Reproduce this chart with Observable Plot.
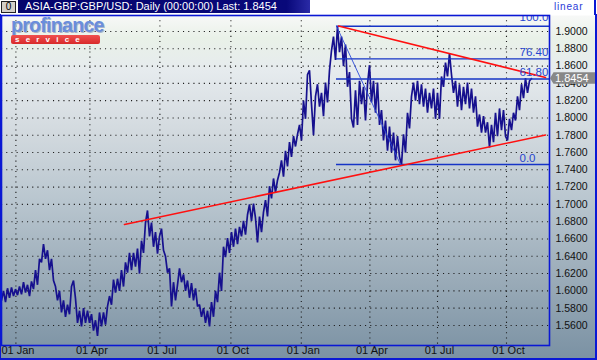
<!DOCTYPE html>
<html><head><meta charset="utf-8">
<script src="https://cdn.jsdelivr.net/npm/d3@7"></script>
<script src="https://cdn.jsdelivr.net/npm/@observablehq/plot@0.6"></script>
<style>
html,body{margin:0;padding:0;background:#fff;}
#wrap{position:relative;width:597px;height:360px;overflow:hidden;font-family:"Liberation Sans",Arial,sans-serif;
 background:linear-gradient(to bottom,#ffffff 0px,#ffffff 15px,#f7f8f7 16px,#e9f1e8 38px,#e6ebee 70px,#d3dadf 130px,#b9c6cf 200px,#9aabb8 280px,#7a91a3 360px);}
#wrap svg{position:absolute;left:0;top:0;}
.border{position:absolute;left:0;top:14px;height:344px;border-left:1px solid #0a18d4;border-right:2px solid #0a18d4;border-bottom:2px solid #0a18d4;width:594px;pointer-events:none;}
.rborder{position:absolute;left:594px;top:0;height:15px;border-left:2px solid #0a18d4;pointer-events:none;}
.btn{position:absolute;left:1px;top:1px;width:13px;height:10px;background:#d4d0c8;border:1px solid #222;font-size:10px;line-height:10px;text-align:center;color:#000;}
.bar{position:absolute;left:18px;top:0;width:292px;height:13px;background:linear-gradient(to right,#05056c 0%,#08087a 92%,#2a2aa6 100%);color:#fff;font-size:11px;line-height:13px;padding-left:7px;box-sizing:border-box;white-space:nowrap;}
.lin{position:absolute;left:554px;top:1px;font-size:10px;color:#2a3ad8;letter-spacing:0.8px;}
.logo{position:absolute;left:11px;top:15px;font-weight:bold;font-size:19.5px;line-height:20px;letter-spacing:-0.7px;color:#6a8ddc;text-shadow:1px 1px 0 #aab4c8;}
.svc{position:absolute;left:11px;top:35px;width:89px;height:9px;background:linear-gradient(to bottom,#f05050,#d82a2a);border-radius:2px;color:#fff;font-weight:bold;font-size:8px;line-height:9px;letter-spacing:6.2px;padding-left:4px;box-sizing:border-box;}
</style></head><body><div id="wrap"></div>
<script>
// Daily GBP/USD close, sampled (sample index i), Dec 2002 .. Nov 2004
const closes = [
1.589,1.600,1.587,1.603,1.592,1.604,1.594,1.602,1.595,1.605,1.596,1.610,1.598,1.607,1.594,1.611,1.602,1.624,1.607,1.637,
1.633,1.654,1.637,1.647,1.624,1.637,1.612,1.605,1.589,1.600,1.575,1.589,1.570,1.584,1.573,1.605,1.612,1.591,1.563,1.577,
1.559,1.580,1.563,1.577,1.563,1.573,1.554,1.566,1.548,1.575,1.559,1.575,1.561,1.582,1.594,1.584,1.613,1.598,
1.614,1.600,1.624,1.605,1.633,1.621,1.644,1.624,1.644,1.628,1.649,1.620,1.658,1.644,1.679,1.693,1.663,1.679,1.651,1.668,
1.643,1.663,1.672,1.647,1.640,1.621,1.626,1.582,1.610,1.589,1.607,1.626,1.610,1.619,1.600,1.612,1.592,1.609,1.589,1.603,
1.582,1.584,1.570,1.580,1.563,1.577,1.559,1.587,1.570,1.600,1.587,1.621,1.600,1.651,1.639,
1.661,1.644,1.668,1.651,1.672,1.654,1.674,1.663,1.681,1.665,1.688,1.700,1.681,1.701,1.684,1.656,1.686,1.668,1.691,1.705,
1.686,1.721,1.707,1.730,1.714,1.728,1.737,1.751,1.732,1.762,1.744,1.772,1.755,1.779,1.767,1.781,1.792,1.774,1.820,1.799,
1.850,1.855,1.816,1.780,1.825,1.839,1.813,1.829,1.802,1.841,1.818,1.855,1.878,1.894,1.867,1.906,
1.876,1.894,1.860,1.885,1.836,1.853,1.799,1.789,1.832,1.792,1.843,1.816,1.836,1.797,1.839,1.861,1.818,1.843,1.806,1.841,
1.792,1.809,1.774,1.797,1.762,1.790,1.760,1.783,1.751,1.779,1.755,1.746,1.781,1.760,1.806,1.788,1.825,1.841,1.820,1.843,
1.816,1.839,1.813,1.834,1.806,1.829,1.811,1.834,1.799,1.829,1.799,
1.848,1.836,1.864,1.848,1.875,1.850,1.829,1.843,1.813,1.839,1.809,1.836,1.816,1.841,1.811,1.834,1.806,1.825,1.790,1.804,
1.783,1.802,1.783,1.795,1.766,1.792,1.772,1.806,1.779,1.811,1.786,1.809,1.779,1.774,1.799,1.786,1.806,1.797,1.825,1.809,
1.839,1.823,1.846,1.829,1.843,1.8454
];
// quarter starts (sample index) and their labels
const tickIdx = [7.2, 44.2, 79.2, 114.7, 149.9, 184.2, 218.0, 252.5];
const tickLabels = ["01 Jan","01 Apr","01 Jul","01 Oct","01 Jan","01 Apr","01 Jul","01 Oct"];
const yTicks = [1.56,1.58,1.60,1.62,1.64,1.66,1.68,1.70,1.72,1.74,1.76,1.78,1.80,1.82,1.84,1.86,1.88,1.90];
const xDomain = [0, 274];
const yDomain = [1.5368, 1.9185];
// Fibonacci retracement (high -> low)
const fibHigh = 1.9061, fibLow = 1.7462;
const fibHighIdx = 167.5, fibLowIdx = 199.5;
const fibPcts = [100, 76.4, 61.8, 0];
const fibLabels = ["100.00", "76.40", "61.80", "0.0"];
// trend lines [index, price]
const upperTrend = [[168.5, 1.9064], [272, 1.8468]];
const lowerTrend = [[61.5, 1.6768], [272, 1.7803]];
const lastPrice = 1.8454;
const titleText = "ASIA-GBP:GBP/USD: Daily (00:00:00) Last: 1.8454";

const series = closes.map((v, i) => ({i, v}));
const fibs = fibPcts.map((p, k) => ({price: fibLow + (fibHigh - fibLow) * p / 100, label: fibLabels[k], top: p === 100}));
const xt = tickIdx.map((t, k) => ({t, label: tickLabels[k]}));
const blue = "#1634c6";

const plot = Plot.plot({
  width: 597, height: 360,
  marginTop: 15, marginBottom: 15, marginLeft: 1, marginRight: 48,
  style: {background: "transparent", overflow: "visible", fontFamily: "'Liberation Sans', Arial, sans-serif"},
  x: {domain: xDomain, axis: null},
  y: {domain: yDomain, axis: null},
  marks: [
    Plot.ruleY(yTicks, {stroke: "#1c1c1c", strokeWidth: 1.1, strokeDasharray: "1.1,4.1"}),
    Plot.ruleX(tickIdx, {stroke: "#1c1c1c", strokeWidth: 1.1, strokeDasharray: "1.1,4.1"}),
    Plot.line(series, {x: "i", y: "v", stroke: "#16108e", strokeWidth: 1.7, strokeLinejoin: "miter"}),
    Plot.ruleY(fibs, {y: "price", x1: fibHighIdx, x2: xDomain[1], stroke: blue, strokeWidth: 1.4}),
    Plot.line([[fibHighIdx, fibHigh], [fibLowIdx, fibLow]], {x: d => d[0], y: d => d[1], stroke: "#2a48d8", strokeWidth: 0.9}),
    Plot.line(upperTrend, {x: d => d[0], y: d => d[1], stroke: "#ff1010", strokeWidth: 1.6}),
    Plot.line(lowerTrend, {x: d => d[0], y: d => d[1], stroke: "#ff1010", strokeWidth: 1.6}),
    Plot.text(fibs.filter(d => !d.top), {y: "price", text: "label", frameAnchor: "right", dx: -30, dy: -6.5, textAnchor: "start", fill: "#2745d0", fontSize: 11.5}),
    Plot.text(fibs.filter(d => d.top), {y: "price", text: "label", frameAnchor: "right", dx: -30, dy: -9, textAnchor: "start", fill: "#2745d0", fontSize: 11.5, clip: true}),
    Plot.text(yTicks, {y: d => d, text: d => d.toFixed(4), frameAnchor: "right", dx: 6, textAnchor: "start", fill: "#111", fontSize: 10.5}),
    Plot.text(xt, {x: "t", text: "label", frameAnchor: "bottom", dy: 8, dx: 2, fill: "#111", fontSize: 11}),
    Plot.frame({stroke: "#0a18d4", strokeWidth: 1.6})
  ]
});

const wrap = document.getElementById("wrap");
wrap.appendChild(plot);

// last-price marker on the right axis (placed with the plot's own scales)
const yl = plot.scale("y").apply(lastPrice);
const xr = plot.scale("x").apply(xDomain[1]);
const g = d3.select(plot).append("g");
g.append("polygon")
  .attr("points", `${xr+1},${yl} ${xr+4.5},${yl-6} ${xr+46},${yl-6} ${xr+46},${yl+5.5} ${xr+4.5},${yl+5.5}`)
  .attr("fill", "#878787").attr("stroke", "none");
g.append("text").attr("x", xr + 6).attr("y", yl).attr("dy", "0.36em")
  .attr("fill", "#ffffff").attr("font-size", 11).attr("text-anchor", "start").text(lastPrice.toFixed(4));

// header decorations
const add = (cls, txt) => { const d = document.createElement("div"); d.className = cls; d.textContent = txt; wrap.appendChild(d); };
add("bar", titleText);
add("btn", "0");
add("lin", "linear");
add("logo", "profinance");
add("svc", "service");
add("border", "");
add("rborder", "");
</script>
</body></html>
